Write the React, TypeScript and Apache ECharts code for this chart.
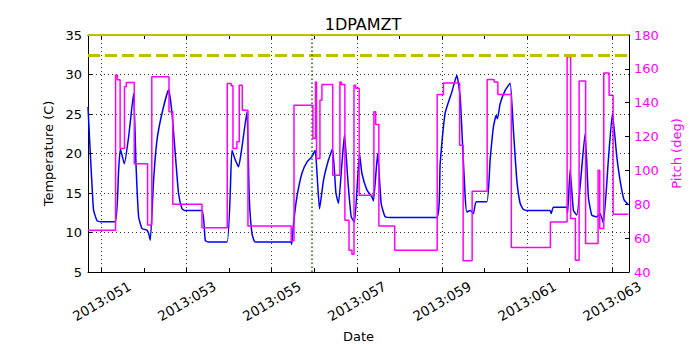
import React, { useEffect, useRef } from "react";
import * as echarts from "echarts";

// Time axis in day-of-year (2013)
const xMin = 50.68;
const xMax = 63.4;
const xTickDays = [51, 52, 53, 54, 55, 56, 57, 58, 59, 60, 61, 62, 63];
const xLabelDays = [51, 53, 55, 57, 59, 61, 63];
const markerDay = 55.945;

// 1DPAMZT temperature (C)
const tempDays = [
  50.68, 50.734, 50.774, 50.812, 50.892, 50.97, 51.322, 51.4, 51.44, 51.533,
  51.635, 51.752, 51.808, 51.87, 51.95, 52.067, 52.11, 52.145, 52.222, 52.302,
  52.42, 52.575, 52.655, 52.75, 52.81, 52.89, 52.944, 53.36, 53.437, 53.508,
  53.947, 54.065, 54.142, 54.22, 54.3, 54.417, 54.471, 54.535, 54.612, 55.458,
  55.47, 55.512, 55.592, 55.71, 55.827, 55.945, 56.022, 56.07, 56.123, 56.217,
  56.335, 56.43, 56.509, 56.57, 56.65, 56.711, 56.79, 56.868, 56.946, 57.063,
  57.12, 57.237, 57.355, 57.392, 57.49, 57.573, 57.667, 57.862, 58.882, 58.96,
  59.077, 59.235, 59.352, 59.43, 59.47, 59.548, 59.588, 59.665, 59.743, 59.806,
  60.058, 60.135, 60.213, 60.276, 60.307, 60.37, 60.488, 60.605, 60.683, 60.763,
  60.84, 60.918, 61.005, 61.545, 61.57, 61.623, 61.938, 61.957, 62.015, 62.093,
  62.173, 62.368, 62.445, 62.525, 62.643, 62.72, 62.798, 62.915, 63.01, 63.113,
  63.19, 63.285, 63.385,
];
const tempValues = [
  25.9, 20, 16, 12.8, 11.5, 11.35, 11.35, 17.9, 20.6, 18.7,
  22.1, 27.6, 18.7, 12, 10.5, 10.3, 9.8, 9.0, 16.6, 21.7,
  25.1, 28.1, 25.1, 18.7, 14.9, 13.0, 12.8, 12.8, 9.0, 8.8,
  8.8, 20.4, 19.2, 18.3, 20.8, 25.3, 14.5, 9.9, 8.8, 8.8,
  8.5, 11.1, 14.5, 17.5, 18.9, 19.6, 20.4, 17, 13.0, 16.6,
  19.2, 20.6, 15.0, 13.7, 18.7, 22.4, 16.6, 12, 11.3, 20,
  17.5, 15.4, 14.5, 14.0, 20, 13.7, 12.0, 11.9, 11.9, 18.7,
  25.1, 27.8, 29.9, 27.2, 23, 14.5, 12.6, 12.8, 12.4, 13.9,
  13.9, 19.2, 23.4, 24.8, 24.4, 26.3, 28, 28.9, 22.9, 16.6,
  13.7, 12.9, 12.8, 12.8, 12.4, 13.2, 13.2, 12.5, 17.9, 12.8,
  12.2, 22.5, 14.5, 12.2, 12.0, 12.4, 11.2, 19.2, 25.1, 19.6,
  16.6, 14.1, 13.5,
];

// Pitch (deg), step changes
const pitchDays = [
  50.68, 51.329, 51.369, 51.435, 51.538, 51.58, 51.768, 52.081, 52.18, 52.584,
  52.673, 53.36, 53.954, 54.048, 54.088, 54.182, 54.236, 54.307, 54.441, 55.458,
  55.524, 55.968, 56.029, 56.053, 56.133, 56.18, 56.434, 56.603, 56.633, 56.72,
  56.817, 56.885, 56.934, 56.974, 57.056, 57.402, 57.444, 57.519, 57.891, 58.89,
  59.038, 59.418, 59.5, 59.712, 60.065, 60.23, 60.316, 60.633, 61.552, 61.945,
  62.027, 62.14, 62.227, 62.38, 62.673, 62.713, 62.807, 62.932, 63.026, 63.385,
];
const pitchValues = [
  64.7, 156.3, 153.5, 113, 149.4, 152, 104, 67.7, 155.3, 134.6,
  80, 66.1, 151.3, 150, 113, 117, 150.3, 135.6, 67.2, 58.4,
  138.5, 118.9, 152.3, 107, 141.5, 150.8, 97.2, 152.3, 150.8, 70.6,
  52.9, 50.5, 150.3, 148.6, 85.4, 134.6, 127.1, 67.2, 52.9, 144.8,
  151.7, 114.9, 46.6, 87.7, 153.7, 152.3, 144.8, 54.5, 69.6, 167.1,
  71.6, 47, 152.9, 56.8, 100.1, 65.7, 157.6, 144.4, 74.1, 74.1,
];

const tempLimits = [32.5, 35];

const FONT = "DejaVu Sans";

export default function App() {
  const ref = useRef<HTMLDivElement>(null);
  useEffect(() => {
    if (!ref.current) return;
    const chart = echarts.init(ref.current, null, { renderer: "svg" });
    const tempData = tempDays.map((d, i) => [d, tempValues[i]]);
    const pitchData = pitchDays.map((d, i) => [d, pitchValues[i]]);
    const dotted = { color: "#000", width: 0.8, type: [1, 3] as number[] };
    chart.setOption({
      animation: false,
      backgroundColor: "#fff",
      title: {
        text: "1DPAMZT",
        left: 358,
        top: 11,
        textAlign: "center",
        textStyle: { fontFamily: FONT, fontSize: 16, fontWeight: "normal", color: "#000" },
      },
      grid: { left: 88, right: 71, top: 35, bottom: 78 },
      xAxis: [
        {
          type: "value",
          position: "bottom",
          min: xMin,
          max: xMax,
          name: "Date",
          nameLocation: "middle",
          nameGap: 47,
          nameTextStyle: { fontFamily: FONT, fontSize: 13, color: "#000" },
          axisLine: { show: true, onZero: false, lineStyle: { color: "#000", width: 1 } },
          axisTick: { show: true, inside: true, length: 4, customValues: xTickDays, lineStyle: { color: "#000" } },
          axisLabel: {
            customValues: xLabelDays,
            formatter: (v: number) => "2013:0" + Math.round(v),
            rotate: 30,
            align: "center",
            verticalAlign: "middle",
            margin: 29,
            fontFamily: FONT,
            fontSize: 13.5,
            color: "#000",
          },
          splitLine: { show: false },
        },
        {
          type: "value",
          position: "top",
          min: xMin,
          max: xMax,
          axisLine: { show: true, onZero: false, lineStyle: { color: "#000", width: 1 } },
          axisTick: { show: true, inside: true, length: 4, customValues: xTickDays, lineStyle: { color: "#000" } },
          axisLabel: { show: false },
          splitLine: { show: false },
        },
      ],
      yAxis: [
        {
          type: "value",
          position: "left",
          min: 5,
          max: 35,
          interval: 5,
          name: "Temperature (C)",
          nameLocation: "middle",
          nameRotate: 90,
          nameGap: 30,
          nameTextStyle: { fontFamily: FONT, fontSize: 13, color: "#000" },
          axisLine: { show: true, onZero: false, lineStyle: { color: "#000", width: 1 } },
          axisTick: { show: true, inside: true, length: 4, lineStyle: { color: "#000" } },
          axisLabel: { margin: 6, fontFamily: FONT, fontSize: 13, color: "#000" },
          splitLine: { show: true, lineStyle: dotted },
        },
        {
          type: "value",
          position: "right",
          min: 40,
          max: 180,
          interval: 20,
          name: "Pitch (deg)",
          nameLocation: "middle",
          nameRotate: 90,
          nameGap: 33,
          nameTextStyle: { fontFamily: FONT, fontSize: 13, color: "#ff00ff" },
          axisLine: { show: true, onZero: false, lineStyle: { color: "#000", width: 1 } },
          axisTick: { show: true, inside: true, length: 4, lineStyle: { color: "#000" } },
          axisLabel: { margin: 5, fontFamily: FONT, fontSize: 13, color: "#ff00ff" },
          splitLine: { show: false },
        },
      ],
      series: [
        {
          name: "grid",
          type: "line",
          xAxisIndex: 0,
          yAxisIndex: 0,
          data: [],
          silent: true,
          z: 1,
          markLine: {
            silent: true,
            symbol: "none",
            label: { show: false },
            lineStyle: dotted,
            data: xLabelDays.map((d) => ({ xAxis: d })),
          },
        },
        {
          name: "1DPAMZT",
          type: "line",
          xAxisIndex: 0,
          yAxisIndex: 0,
          data: tempData,
          showSymbol: false,
          symbol: "none",
          smooth: 0.15,
          z: 2,
          lineStyle: { color: "#0000ff", width: 1.5 },
          itemStyle: { color: "#0000ff" },
          markLine: {
            silent: true,
            symbol: "none",
            label: { show: false },
            data: [
              { yAxis: tempLimits[0], lineStyle: { color: "#bfbf00", width: 3, type: [12, 5] } },
              { yAxis: tempLimits[1], lineStyle: { color: "#bfbf00", width: 2, type: "solid" } },
              { xAxis: markerDay, lineStyle: { color: "#008000", width: 1.5, type: [1.5, 2.5] } },
            ],
          },
        },
        {
          name: "Pitch",
          type: "line",
          xAxisIndex: 0,
          yAxisIndex: 1,
          data: pitchData,
          step: "end",
          showSymbol: false,
          symbol: "none",
          z: 3,
          lineStyle: { color: "#ff00ff", width: 1.5 },
          itemStyle: { color: "#ff00ff" },
        },
      ],
    });
    return () => chart.dispose();
  }, []);
  return (
    <div
      ref={ref}
      style={{ position: "fixed", left: 0, top: 0, width: 700, height: 350 }}
    />
  );
}
